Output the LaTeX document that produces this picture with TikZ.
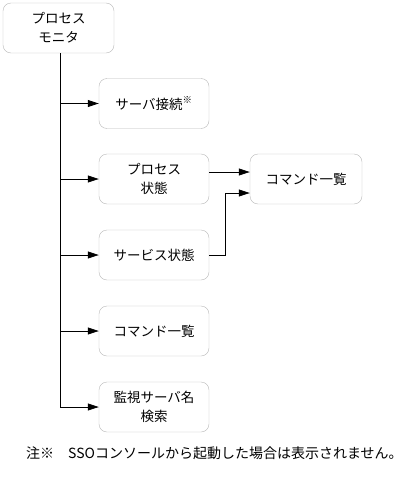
\documentclass[tikz,border=0pt]{standalone}
\usepackage{fontspec}
\setmainfont{Noto Sans CJK JP}
\usetikzlibrary{arrows.meta}
\tikzset{
  screen/.style={draw=black!28, rounded corners=8pt, minimum width=110pt, minimum height=50pt,
    inner sep=0pt, align=center, font=\fontsize{13.5}{19}\selectfont},
  link/.style={line width=0.8pt, -{Triangle[length=11pt,width=7pt]}}
}
\begin{document}
\begin{tikzpicture}[x=1pt, y=-1pt]
\useasboundingbox (0,0) rectangle (408,479);

\node [screen, minimum width=111pt] (monitor) at (58.5, 28) {プロセス\\モニタ};
\node [screen] (conn) at (154, 103.5) {サーバ接続\textsuperscript{※}};
\node [screen] (proc) at (154, 179) {プロセス\\状態};
\node [screen] (svc) at (154, 255) {サービス状態};
\node [screen] (cmdlist) at (154, 331) {コマンド一覧};
\node [screen] (search) at (154, 407) {監視サーバ名\\検索};
\node [screen, minimum width=112pt] (cmd) at (306, 179) {コマンド一覧};

% trunk from the monitor
\coordinate (trunkend) at (60, 407);
\draw [line width=0.8pt] (monitor.south -| trunkend) -- (trunkend);
\foreach \n in {conn, proc, svc, cmdlist, search}
  \draw [link] (trunkend |- \n.west) -- (\n.west);

% both states lead to the command list
\coordinate (bend) at (225, 193);
\draw [link] ([yshift=7pt]proc.east) -- ([yshift=7pt]cmd.west);
\draw [link] (svc.east) -| (bend) -- (cmd.west |- bend);

\node [anchor=west, inner sep=0pt, font=\fontsize{14}{17}\selectfont] (note) at (26, 453)
  {注※\quad SSOコンソールから起動した場合は表示されません。};
\end{tikzpicture}
\end{document}
